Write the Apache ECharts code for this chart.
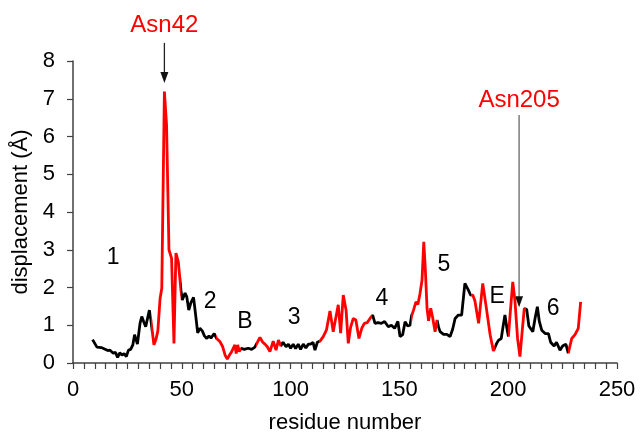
<!DOCTYPE html>
<html><head><meta charset="utf-8">
<script src="https://cdn.jsdelivr.net/npm/echarts@6/dist/echarts.min.js"></script>
<style>html,body{margin:0;padding:0;background:#fff}#c{width:640px;height:433px}</style>
</head><body><div id="c"></div>
<script>
// residue numbers and displacements (Å)
const residues = [9,11,13,15,16,17,18.5,19.5,20.5,21.5,22.5,23.5,24.5,25.5,26.5,27.5,28.3,29,29.6,30.8,31.6,32.5,33.4,34.2,35.1,35.8,36.5,37.2,38.1,39,40,40.8,42,43,44.1,45.3,46.4,47.3,48.4,49.6,50.2,51.5,52.3,53.2,54.2,55.4,56.3,57.3,58.3,59.4,60.4,61.5,62.5,63.4,64.9,66,67.6,68.8,69.9,70.9,71.9,72.9,73.6,74.4,75,75.7,76.4,77.2,78.7,80.5,82.1,83.6,85.9,87.2,88.2,89.3,90.5,92,93.3,94.4,95.5,96.5,97.9,99,100,101.2,102.3,103.5,104.6,105.8,107,108.2,109.2,110.3,111.2,112.3,113.5,115,116.5,118.1,119.6,120.3,121.9,123,124.2,125.5,126.5,127.6,128.8,130,131.4,132.7,133.9,135.2,136.5,137.7,138.8,140.2,141.7,143.2,144.9,146.3,147.8,149.3,150.3,151.5,152.6,153.8,154.9,155.6,156.5,157.6,158.5,159.5,160.4,161.2,161.9,162.7,163.4,164.4,165.3,166.4,167.3,168,168.7,170.3,171.8,172.5,173.3,174.5,175.6,177.1,178.6,180.1,181.7,182.7,183.7,184.7,185.5,186.4,188.3,190.1,191.7,193.2,194.7,195.5,196.8,197.6,198.5,199.4,200.1,200.9,202.1,203.1,204.3,205.4,206.6,207.4,208.5,209.5,210.4,211.3,212.4,213.4,214.3,215.4,217,218.5,219.5,220.3,221.1,222.2,223.8,225,226.5,227.6,229.2,230.7,232.2,233.3];
const displacement = [0.62,0.42,0.41,0.36,0.33,0.34,0.26,0.28,0.15,0.27,0.21,0.25,0.17,0.34,0.36,0.48,0.75,0.74,0.5,1.05,1.23,1.09,0.96,0.95,1.40,1.14,0.8,0.48,0.62,0.85,1.70,1.98,7.19,6.3,3.0,2.77,0.52,2.91,2.68,1.93,1.67,1.85,1.75,1.40,1.60,1.74,1.30,0.80,0.92,0.85,0.72,0.65,0.72,0.66,0.78,0.65,0.56,0.43,0.21,0.10,0.21,0.30,0.25,0.48,0.25,0.48,0.30,0.39,0.36,0.39,0.36,0.42,0.68,0.55,0.50,0.43,0.30,0.58,0.34,0.61,0.45,0.55,0.43,0.50,0.39,0.50,0.38,0.50,0.36,0.50,0.40,0.50,0.50,0.55,0.34,0.55,0.58,0.70,0.88,1.38,0.83,1.05,1.54,0.79,1.80,1.40,0.52,0.95,1.18,1.14,0.65,0.92,1.05,1.07,1.18,1.27,1.05,1.07,1.05,1.10,0.96,1.00,0.92,1.10,0.70,0.75,1.09,0.98,1.00,1.25,1.40,1.62,1.55,1.85,2.2,3.21,2.5,1.45,1.12,1.45,1.20,0.83,1.14,0.95,0.83,0.76,0.76,0.80,0.70,0.90,1.18,1.27,1.27,2.11,1.93,1.80,1.80,1.65,1.62,1.05,2.11,1.40,0.75,0.32,0.52,0.60,0.65,0.95,1.27,0.92,0.70,1.30,2.15,1.65,0.65,0.17,0.95,1.45,1.42,0.98,0.95,0.83,1.20,1.49,1.10,0.87,0.78,0.78,0.55,0.60,0.45,0.55,0.34,0.45,0.50,0.26,0.65,0.75,0.92,1.62];
// residue ranges drawn in red
const redRanges = [[35.8,49.6],[65.8,77],[84,95.5],[113.2,137.5],[155.3,167.6],[183,193.8],[199.7,208],[227.5,240]];
// region labels
const regionLabels = ['1','2','B','3','4','5','E','6'];
const regionX = [18.4,63,79,101.6,142,170.5,194.9,220.6];
const regionY = [2.78,1.62,1.09,1.19,1.70,2.6,1.75,1.43];
// highlighted residues
const hiNames = ['Asn42','Asn205'];
const hiRes = [42,205];
const hiLabelY = [8.95,6.95];
const hiArrowTop = [8.48,6.57];
const hiArrowTip = [7.42,1.48];
const hiArrowColor = ['#222222','#666666'];

const xTicks = [0,50,100,150,200,250];
const yTicks = [0,1,2,3,4,5,6,7,8];

const FONT = 'Liberation Sans, Arial, sans-serif';
const data = residues.map((r,i)=>[r,displacement[i]]);

const pieces = [];
let prev = -10;
redRanges.forEach(([a,b])=>{
  pieces.push({gte:prev, lt:a, color:'#000000'});
  pieces.push({gte:a, lt:b, color:'#ff0000'});
  prev = b;
});
pieces.push({gte:prev, lt:1000, color:'#000000'});

const chart = echarts.init(document.getElementById('c'), null, {renderer:'canvas'});
const axisCol = '#404040';
chart.setOption({
  animation:false,
  backgroundColor:'#ffffff',
  grid:{left:73,right:23,top:61,bottom:70,containLabel:false,outerBoundsMode:'none'},
  visualMap:{show:false,type:'piecewise',dimension:0,seriesIndex:0,pieces:pieces},
  xAxis:{type:'value',min:xTicks[0],max:xTicks[xTicks.length-1],interval:50,
    name:'residue number',nameLocation:'middle',nameGap:49,
    nameTextStyle:{fontFamily:FONT,fontSize:22,color:'#000'},
    axisLine:{lineStyle:{color:axisCol,width:1.5}},
    axisTick:{show:true,inside:false,length:6,lineStyle:{color:axisCol,width:1.2}},
    minorTick:{show:true,splitNumber:10,length:6,lineStyle:{color:axisCol,width:1.2}},
    axisLabel:{fontFamily:FONT,fontSize:22,color:'#000',margin:16},
    splitLine:{show:false}},
  yAxis:{type:'value',min:yTicks[0],max:yTicks[yTicks.length-1],interval:1,
    name:'displacement (Å)',nameLocation:'middle',nameGap:41,nameRotate:90,
    nameTextStyle:{fontFamily:FONT,fontSize:22,color:'#000'},
    axisLine:{show:true,lineStyle:{color:axisCol,width:1.5}},
    axisTick:{show:true,inside:false,length:6,lineStyle:{color:axisCol,width:1.2}},
    axisLabel:{fontFamily:FONT,fontSize:22,color:'#000',margin:18},
    splitLine:{show:false}},
  series:[{
    type:'line',data:data,showSymbol:false,symbol:'none',clip:false,
    lineStyle:{width:2.8}
  }]
});

function drawAnnotations(){
  const els = [];
  regionLabels.forEach((t,i)=>{
    const p = chart.convertToPixel({gridIndex:0},[regionX[i],regionY[i]]);
    els.push({type:'text',x:p[0],y:p[1],silent:true,
      style:{text:t,fontFamily:FONT,fontSize:23,fill:'#000',align:'center',verticalAlign:'middle'}});
  });
  hiNames.forEach((t,i)=>{
    const lp = chart.convertToPixel({gridIndex:0},[hiRes[i],hiLabelY[i]]);
    const top = chart.convertToPixel({gridIndex:0},[hiRes[i],hiArrowTop[i]]);
    const tip = chart.convertToPixel({gridIndex:0},[hiRes[i],hiArrowTip[i]]);
    els.push({type:'text',x:lp[0],y:lp[1],silent:true,
      style:{text:t,fontFamily:FONT,fontSize:24,fill:'#ff0000',align:'center',verticalAlign:'middle'}});
    els.push({type:'line',silent:true,shape:{x1:top[0],y1:top[1],x2:tip[0],y2:tip[1]-8},
      style:{stroke:hiArrowColor[i],lineWidth:1.3}});
    els.push({type:'polygon',silent:true,shape:{points:[[tip[0]-4,tip[1]-11],[tip[0]+4,tip[1]-11],[tip[0],tip[1]]]},
      style:{fill:'#111111'}});
  });
  chart.setOption({graphic:{elements:els}});
}
drawAnnotations();
</script></body></html>
